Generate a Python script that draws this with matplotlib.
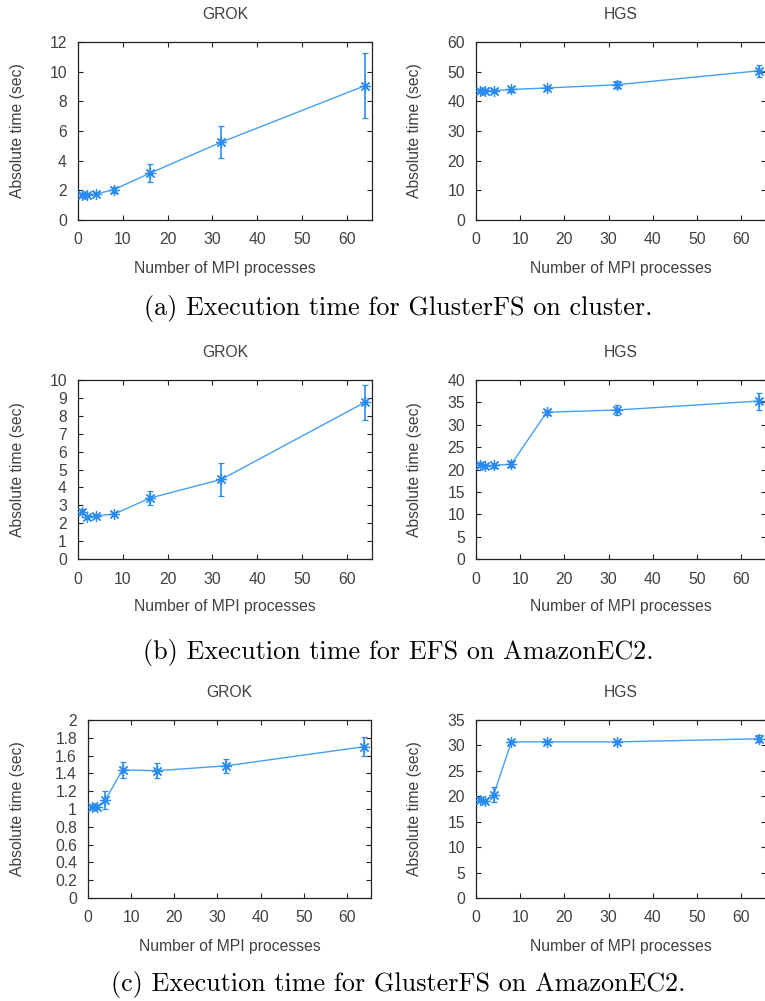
import matplotlib
matplotlib.use("Agg")
import matplotlib.pyplot as plt

# ---- data ----
procs = [1, 2, 4, 8, 16, 32, 64]

# (a) GlusterFS on cluster
a_grok = [1.70, 1.70, 1.75, 2.05, 3.15, 5.25, 9.05]
a_grok_err = [0.15, 0.15, 0.12, 0.20, 0.60, 1.07, 2.20]
a_hgs = [43.6, 43.6, 43.6, 44.0, 44.5, 45.6, 50.3]
a_hgs_err = [0.6, 0.6, 0.6, 0.7, 0.8, 1.2, 2.0]

# (b) EFS on AmazonEC2
b_grok = [2.65, 2.35, 2.42, 2.50, 3.40, 4.45, 8.75]
b_grok_err = [0.12, 0.10, 0.10, 0.10, 0.40, 0.93, 0.98]
b_hgs = [21.1, 20.8, 20.9, 21.2, 32.8, 33.3, 35.3]
b_hgs_err = [0.6, 0.5, 0.5, 0.6, 0.6, 1.1, 1.9]

# (c) GlusterFS on AmazonEC2
c_grok = [1.02, 1.02, 1.10, 1.44, 1.43, 1.485, 1.70]
c_grok_err = [0.02, 0.02, 0.10, 0.09, 0.085, 0.08, 0.11]
c_hgs = [19.3, 19.1, 20.3, 30.7, 30.7, 30.7, 31.3]
c_hgs_err = [0.5, 0.4, 1.5, 0.4, 0.4, 0.4, 0.7]

titles = ["GROK", "HGS"]
captions = ["(a) Execution time for GlusterFS on cluster.",
            "(b) Execution time for EFS on AmazonEC2.",
            "(c) Execution time for GlusterFS on AmazonEC2."]
xlabel = "Number of MPI processes"
ylabel = "Absolute time (sec)"
xticks = [0, 10, 20, 30, 40, 50, 60]

# ---- styling ----
W, H = 765, 1001
plt.rcParams['font.family'] = ['Liberation Sans', 'DejaVu Sans']
TXT = '#404040'
BLUE = '#2a8cf0'
LINE = '#45a0f5'
FS = 11.3

fig = plt.figure(figsize=(W / 100, H / 100), dpi=100)

# panel rows: (top px, bottom px)
rows = [(42, 220), (380, 559), (720, 898)]
caption_y = [308, 652, 985]
left_x = [(78, 372), (78, 372), (88, 371)]
right_x = (476, 766)

panels = [
    [(a_grok, a_grok_err, (0, 12), [0, 2, 4, 6, 8, 10, 12]),
     (a_hgs, a_hgs_err, (0, 60), [0, 10, 20, 30, 40, 50, 60])],
    [(b_grok, b_grok_err, (0, 10), list(range(0, 11))),
     (b_hgs, b_hgs_err, (0, 40), list(range(0, 41, 5)))],
    [(c_grok, c_grok_err, (0, 2), [0, 0.2, 0.4, 0.6, 0.8, 1.0, 1.2, 1.4, 1.6, 1.8, 2.0]),
     (c_hgs, c_hgs_err, (0, 35), list(range(0, 36, 5)))],
]

for r, (top, bot) in enumerate(rows):
    for c in range(2):
        x0, x1 = left_x[r] if c == 0 else right_x
        ax = fig.add_axes([x0 / W, 1 - bot / H, (x1 - x0) / W, (bot - top) / H])
        vals, errs, ylim, yticks = panels[r][c]
        ax.plot(procs, vals, color=LINE, lw=1.0, zorder=2)
        ax.errorbar(procs, vals, yerr=errs, color=BLUE, ls='none', elinewidth=1.2,
                    capsize=2, capthick=1.0, marker=(8, 2, 0), markersize=8,
                    markeredgewidth=0.9, zorder=3)
        ax.set_xlim(0, 65.6)
        ax.set_ylim(*ylim)
        ax.set_xticks(xticks)
        ax.set_yticks(yticks)
        ax.set_yticklabels(["{:g}".format(v) for v in yticks])
        ax.tick_params(direction='in', length=3.5, width=0.8, colors='#222222',
                       labelcolor=TXT, labelsize=FS, top=True, right=True)
        ax.tick_params(axis='x', pad=9)
        ax.tick_params(axis='y', pad=8)
        for s in ax.spines.values():
            s.set_color('#222222')
            s.set_linewidth(0.9)
        ax.annotate(titles[c], xy=(0.5, 1), xycoords='axes fraction',
                    xytext=(0, 20), textcoords='offset points',
                    ha='center', va='center', fontsize=FS, color=TXT)
        ax.set_xlabel(xlabel, fontsize=FS, color=TXT, va='center')
        ax.xaxis.set_label_coords(0.5, -48 / (bot - top))
        ax.set_ylabel(ylabel, fontsize=FS, color=TXT, va='center')
        ylab_x = 18 if c == 0 else 415
        ax.yaxis.set_label_coords((ylab_x - x0) / (x1 - x0), 0.5)

for r, cap in enumerate(captions):
    fig.text(0.52, 1 - caption_y[r] / H, cap, ha='center', va='center',
             fontsize=18.8, family=['cmr10', 'DejaVu Serif'], color='black')

fig.savefig("out.png", dpi=100)
